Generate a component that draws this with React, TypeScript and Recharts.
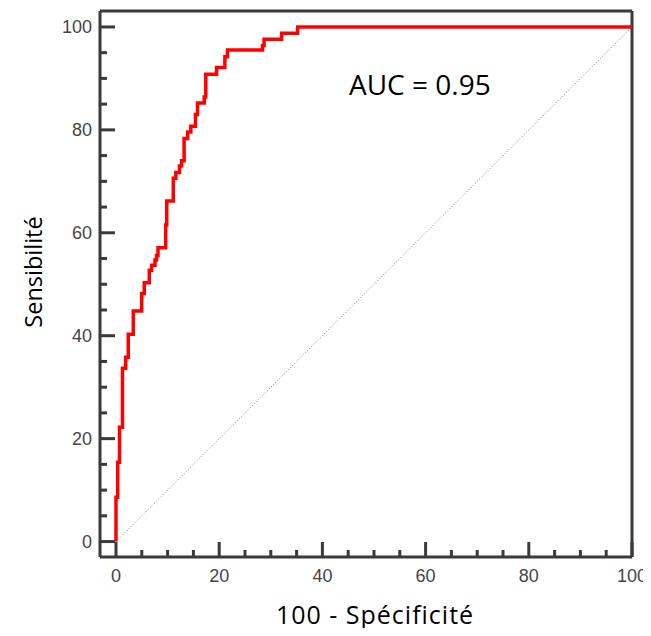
import React from 'react';
import { LineChart, Line, XAxis, YAxis, ReferenceLine } from 'recharts';

// ROC curve steps: false positive rate (100 - specificity) and sensitivity
const fpr = [0, 0, 0.33, 0.68, 1.26, 1.88, 2.38, 3.35, 4.98, 5.48, 6.45, 6.92, 7.56, 7.85, 8.14, 9.63, 9.83, 11.1, 11.6, 12.3, 12.7, 13.2, 13.9, 14.5, 15.4, 15.8, 17.1, 17.4, 19.5, 21.1, 21.6, 28.4, 28.7, 32.1, 35.2, 100];
const tpr = [0, 8.6, 15.4, 22.2, 33.7, 35.8, 40.3, 44.8, 48.2, 50.3, 52.7, 53.7, 54.7, 55.6, 57.1, 61.5, 66.2, 70.6, 71.7, 73.0, 74.0, 78.3, 79.6, 80.7, 83.0, 85.2, 86.4, 90.8, 92.1, 94.2, 95.5, 96.4, 97.6, 98.8, 100, 100];

const diagX = [0, 100];
const diagY = [0, 100];

const tickValues = [0, 5, 10, 15, 20, 25, 30, 35, 40, 45, 50, 55, 60, 65, 70, 75, 80, 85, 90, 95, 100];
const majorTicks = [0, 20, 40, 60, 80, 100];

const xTitle = '100 - Spécificité';
const yTitle = 'Sensibilité';
const aucText = 'AUC = 0.95';

const AXIS = '#3a3a3a';
const LABEL = '#454545';
const TICK_FONT = '"Liberation Sans", Arial, sans-serif';
const TITLE_FONT = '"Open Sans", sans-serif';

const X_DOMAIN: [number, number] = [-3.1, 100];
const Y_DOMAIN: [number, number] = [-3, 103.1];

const data = fpr.map((x, i) => ({ fpr: x, tpr: tpr[i] }));

const YTick = (props: any) => {
  const { x, y, payload } = props;
  const major = majorTicks.includes(payload.value);
  return (
    <g>
      <line x1={x} x2={x + (major ? 15 : 7)} y1={y} y2={y} stroke={AXIS} strokeWidth={3} />
      {major && (
        <text x={x - 8} y={y} dy={6.5} textAnchor="end" fill={LABEL} fontSize={18} fontFamily={TICK_FONT}>
          {payload.value}
        </text>
      )}
    </g>
  );
};

const XTick = (props: any) => {
  const { x, y, payload } = props;
  const major = majorTicks.includes(payload.value);
  return (
    <g>
      <line x1={x} x2={x} y1={y} y2={y - (major ? 15 : 7)} stroke={AXIS} strokeWidth={3} />
      {major && (
        <text x={x} y={y} dy={25} textAnchor="middle" fill={LABEL} fontSize={18} fontFamily={TICK_FONT}>
          {payload.value}
        </text>
      )}
    </g>
  );
};

export default function App() {
  return (
    <div style={{ position: 'relative', width: 643, height: 620 }}>
      <LineChart
        width={643}
        height={620}
        data={data}
        margin={{ top: 3, right: 19, bottom: 10, left: 12 }}
      >
        <XAxis
          dataKey="fpr"
          type="number"
          domain={X_DOMAIN}
          allowDataOverflow
          ticks={tickValues}
          interval={0}
          tick={<XTick />}
          tickLine={false}
          tickSize={0}
          tickMargin={0}
          height={61}
          axisLine={{ stroke: AXIS, strokeWidth: 3 }}
        />
        <YAxis
          type="number"
          domain={Y_DOMAIN}
          allowDataOverflow
          ticks={tickValues}
          interval={0}
          tick={<YTick />}
          tickLine={false}
          tickSize={0}
          tickMargin={0}
          width={80}
          axisLine={{ stroke: AXIS, strokeWidth: 3 }}
        />
        <ReferenceLine y={Y_DOMAIN[1]} stroke={AXIS} strokeWidth={3} ifOverflow="visible" />
        <ReferenceLine x={X_DOMAIN[1]} stroke={AXIS} strokeWidth={3} ifOverflow="visible" />
        <ReferenceLine
          segment={[{ x: diagX[0], y: diagY[0] }, { x: diagX[1], y: diagY[1] }]}
          stroke="#808080"
          strokeWidth={1}
          strokeDasharray="1 2"
          ifOverflow="visible"
        />
        <Line
          type="stepAfter"
          dataKey="tpr"
          stroke="#ff0000"
          strokeWidth={3.5}
          dot={false}
          activeDot={false}
          isAnimationActive={false}
        />
      </LineChart>
      <div
        style={{
          position: 'absolute',
          left: 341,
          top: 62,
          fontFamily: TITLE_FONT,
          fontSize: 28,
          lineHeight: 1,
          color: '#000',
          whiteSpace: 'nowrap',
        }}
      >
        {aucText}
      </div>
      <div
        style={{
          position: 'absolute',
          left: 217,
          top: 594,
          width: 300,
          textAlign: 'center',
          fontFamily: TITLE_FONT,
          fontSize: 25,
          letterSpacing: 1,
          lineHeight: 1,
          color: '#000',
          whiteSpace: 'nowrap',
        }}
      >
        {xTitle}
      </div>
      <div
        style={{
          position: 'absolute',
          left: -74.8,
          top: 252,
          width: 200,
          height: 24,
          textAlign: 'center',
          fontFamily: TITLE_FONT,
          fontSize: 23.5,
          lineHeight: '24px',
          color: '#000',
          whiteSpace: 'nowrap',
          transform: 'rotate(-90deg)',
        }}
      >
        {yTitle}
      </div>
    </div>
  );
}
